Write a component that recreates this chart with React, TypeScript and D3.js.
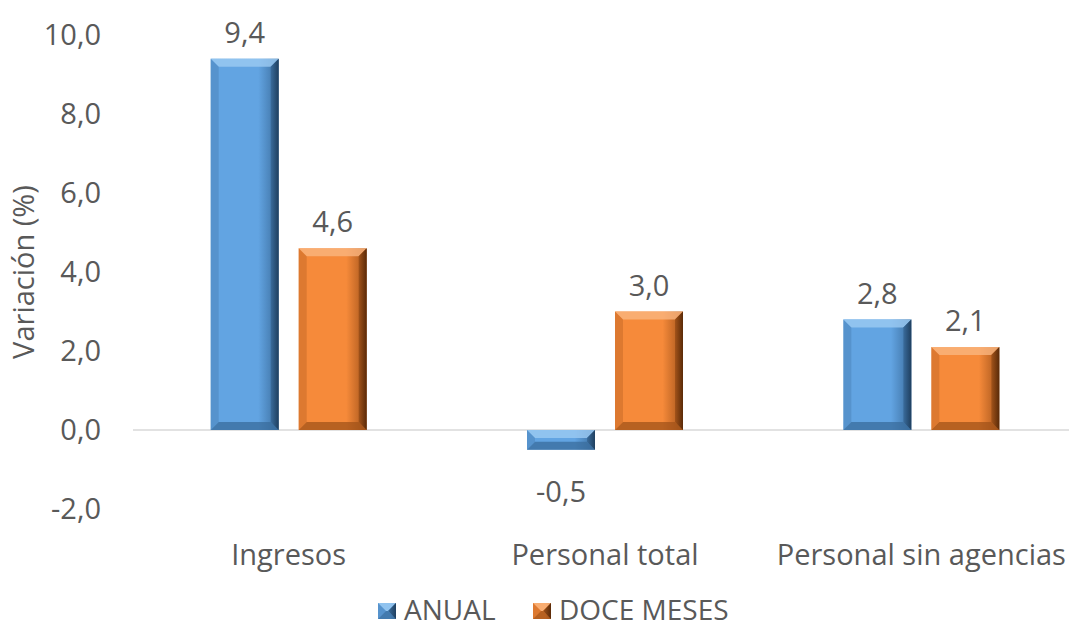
import * as d3 from "d3";

const categories = ["Ingresos", "Personal total", "Personal sin agencias"];
const anual = [9.4, -0.5, 2.8];
const doceMeses = [4.6, 3.0, 2.1];
const yTicks = [-2, 0, 2, 4, 6, 8, 10];

const series = [
  { key: "ANUAL", values: anual, base: "#62a4e2", light: "#9ccaf2", dark: "#3a6c9c", edge: "#1f3f5f" },
  { key: "DOCE MESES", values: doceMeses, base: "#f68a3a", light: "#fab580", dark: "#a2531a", edge: "#5a2a08" },
];

const W = 1069;
const H = 627;
const fmt = (v: number) => v.toFixed(1).replace(".", ",");
const font = "'Open Sans', 'Noto Sans', sans-serif";
const fs = 29;
const textColor = "#595959";

const BevelBar = ({ x, y, w, h, si }: { x: number; y: number; w: number; h: number; si: number }) => {
  const s = series[si];
  const b = Math.min(8, h / 2, w / 2);
  return (
    <g>
      <rect x={x} y={y} width={w} height={h} fill={`url(#g${si})`} />
      <polygon points={`${x},${y} ${x + w},${y} ${x + w - b},${y + b} ${x + b},${y + b}`} fill={s.light} opacity={0.8} />
      <polygon points={`${x},${y + h} ${x + w},${y + h} ${x + w - b},${y + h - b} ${x + b},${y + h - b}`} fill={s.dark} opacity={0.75} />
      <polygon points={`${x + w},${y} ${x + w},${y + h} ${x + w - b},${y + h - b} ${x + w - b},${y + b}`} fill={`url(#r${si})`} />
      <polygon points={`${x},${y} ${x},${y + h} ${x + b},${y + h - b} ${x + b},${y + b}`} fill={s.dark} opacity={0.3} />
    </g>
  );
};

const App = () => {
  const y = d3.scaleLinear().domain([-2, 10]).range([509, 35]);
  const x0 = d3.scaleBand().domain(categories).range([130.5, 1079.5]);
  const barW = 68;
  const gap = 20;

  return (
    <svg width={W} height={H} style={{ position: "absolute", left: 0, top: 0 }}>
      <defs>
        {series.map((s, i) => (
          <g key={i}>
            <linearGradient id={`g${i}`} x1="0" x2="1" y1="0" y2="0">
              <stop offset="0" stopColor={s.base} />
              <stop offset="0.7" stopColor={s.base} />
              <stop offset="1" stopColor={s.dark} />
            </linearGradient>
            <linearGradient id={`r${i}`} x1="0" x2="1" y1="0" y2="0">
              <stop offset="0" stopColor={s.dark} />
              <stop offset="1" stopColor={s.edge} />
            </linearGradient>
          </g>
        ))}
      </defs>
      <rect width={W} height={H} fill="#fff" />
      {yTicks.map((t) => (
        <text key={t} x={101} y={y(t)} dy="0.35em" textAnchor="end" fontFamily={font} fontSize={fs} fill={textColor}>
          {fmt(t)}
        </text>
      ))}
      <text
        transform={`translate(24,${(y(10) + y(-2)) / 2}) rotate(-90)`}
        textAnchor="middle"
        dy="0.35em"
        fontFamily={font}
        fontSize={fs}
        fill={textColor}
      >
        Variación (%)
      </text>
      <line x1={133} x2={W} y1={y(0)} y2={y(0)} stroke="#d9d9d9" strokeWidth={1.5} />
      {categories.map((c, ci) => {
        const cx = (x0(c) as number) + x0.bandwidth() / 2;
        return (
          <g key={c}>
            {series.map((s, si) => {
              const v = s.values[ci];
              const bx = si === 0 ? cx - gap / 2 - barW : cx + gap / 2;
              const top = y(Math.max(0, v));
              const bot = y(Math.min(0, v));
              const ly = v >= 0 ? top - 26 : bot + 42;
              return (
                <g key={s.key}>
                  <BevelBar x={bx} y={top} w={barW} h={bot - top} si={si} />
                  <text x={bx + barW / 2} y={ly} dy="0.35em" textAnchor="middle" fontFamily={font} fontSize={fs} fill={textColor}>
                    {fmt(v)}
                  </text>
                </g>
              );
            })}
            <text x={cx} y={555} dy="0.35em" textAnchor="middle" fontFamily={font} fontSize={fs} fill={textColor}>
              {c}
            </text>
          </g>
        );
      })}
      {series.map((s, si) => {
        const lx = si === 0 ? 378 : 533;
        return (
          <g key={s.key}>
            <BevelBar x={lx} y={603} w={18} h={16} si={si} />
            <text x={lx + 26} y={620} fontFamily={font} fontSize={28} fill={textColor}>
              {s.key}
            </text>
          </g>
        );
      })}
    </svg>
  );
};

export default App;
